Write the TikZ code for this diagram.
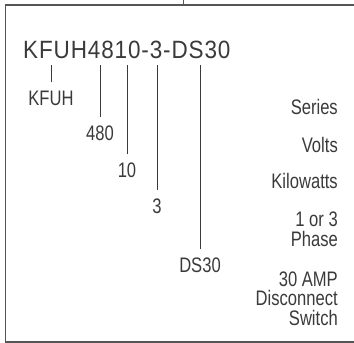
\documentclass[tikz,border=0pt]{standalone}
\usepackage{fontspec}
\setmainfont{Liberation Sans}
\newfontfamily\codefont{Liberation Sans}[FakeStretch=0.9, LetterSpace=3.5]
\newfontfamily\partfont{Liberation Sans}[FakeStretch=0.79]
\definecolor{inkgray}{HTML}{3A3A3A}
\definecolor{framegray}{HTML}{555555}
\usepackage{tikz}
\usetikzlibrary{positioning}

\begin{document}
\begin{tikzpicture}[x=1pt, y=-1pt,
    code/.style={font=\codefont\fontsize{25}{30}\selectfont, text=inkgray, inner sep=0pt, anchor=base west},
    part/.style={font=\partfont\fontsize{21}{21}\selectfont, text=inkgray, inner sep=0pt, anchor=base},
    desc/.style={font=\partfont\fontsize{21}{19.5}\selectfont, text=inkgray, inner sep=0pt, anchor=base east, align=right},
    tick/.style={inkgray, line width=1pt, shorten <=8pt, shorten >=7pt}]
    \useasboundingbox (0,0) rectangle (354,343);
    % Frame (open to the right)
    \draw[framegray, line width=1.3pt] (360,5) -- (5.5,5) -- (5.5,342) -- (360,342);
    \draw[framegray, line width=1pt] (183,0) -- (183,5);
    % Model number
    \node[code] (model) at (23,58) {KFUH4810-3-DS30};
    % Parts of the model number
    \node[part] (series) at (51,105) {KFUH};
    \node[part] (volts) at (100,140) {480};
    \node[part] (kw) at (127,177) {10};
    \node[part] (phase) at (157,213) {3};
    \node[part] (switch) at (200,272) {DS30};
    \foreach \p in {series, volts, kw, phase, switch}
      \draw[tick] (\p.north) -- (\p.north |- model.south);
    % Meanings (base = last line)
    \node[desc] (seriesdesc) at (338,114) {Series};
    \node[desc] (voltsdesc) at (338,152) {Volts};
    \node[desc] (kwdesc) at (338,188) {Kilowatts};
    \node[desc] (phasedesc) at (338,246) {1 or 3\\Phase};
    \node[desc] (switchdesc) at (338,325) {30 AMP\\Disconnect\\Switch};
\end{tikzpicture}
\end{document}
